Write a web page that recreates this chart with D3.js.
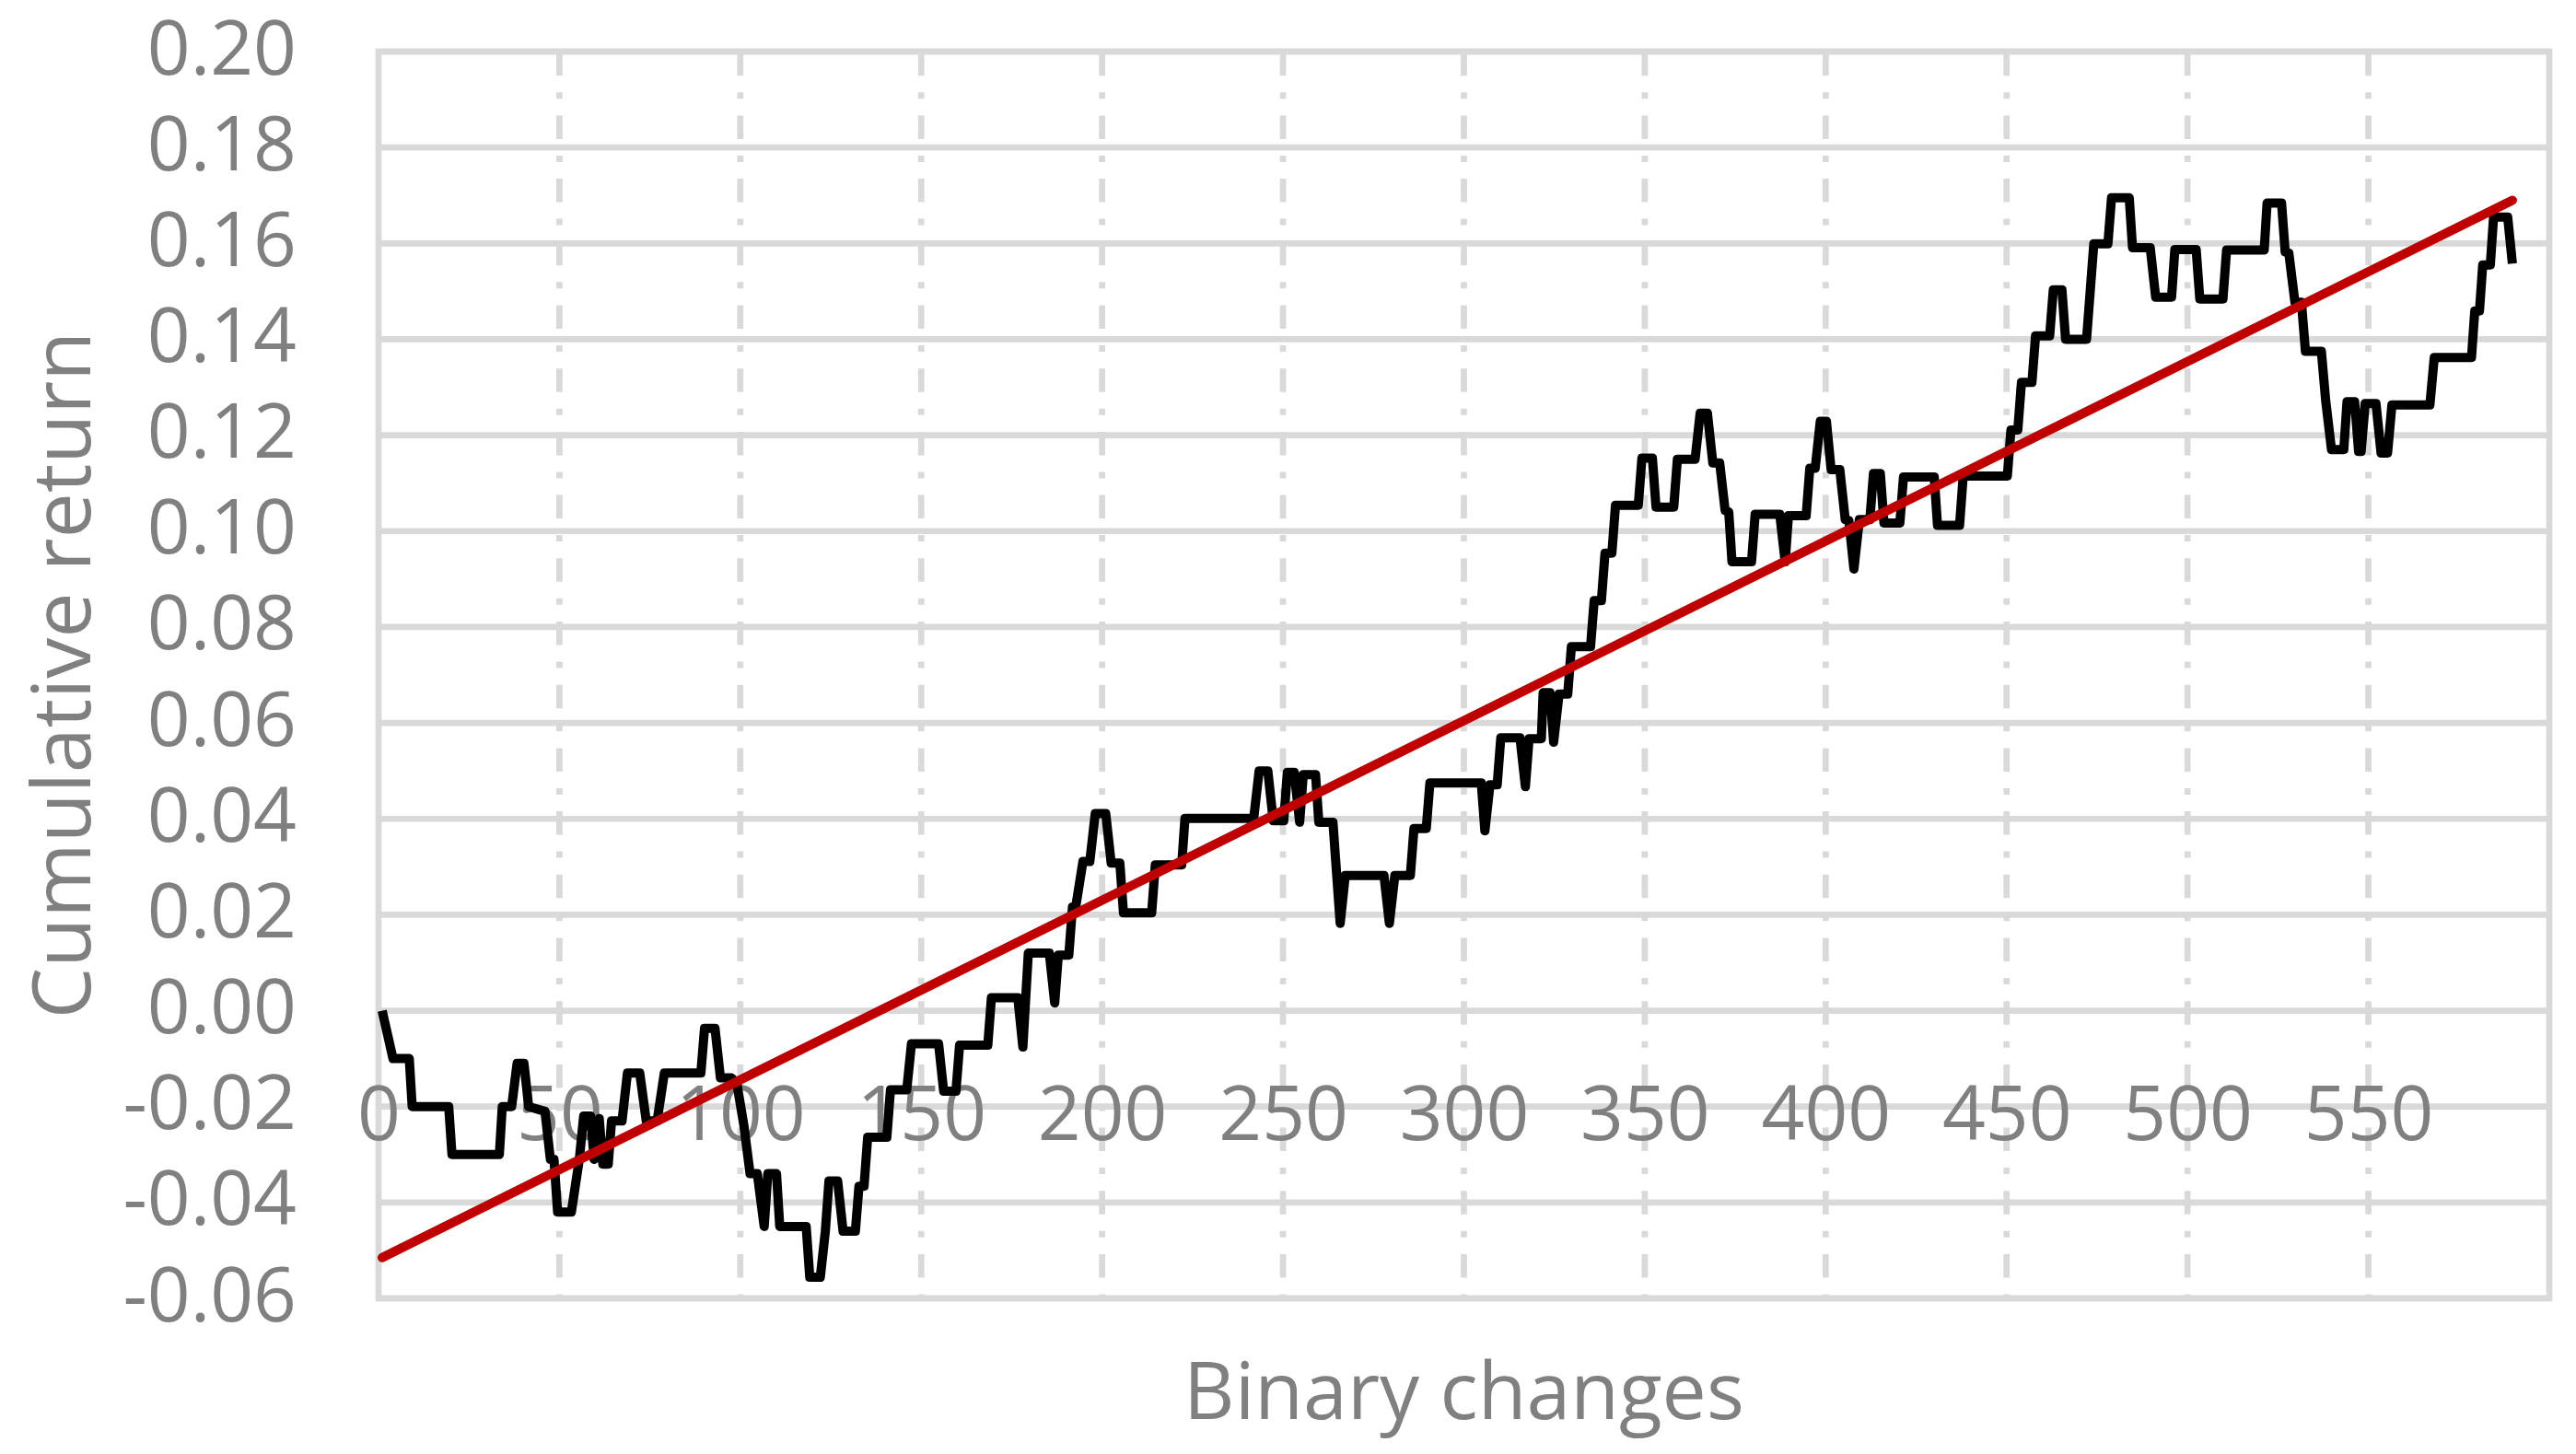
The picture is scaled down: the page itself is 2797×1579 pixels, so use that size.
<!DOCTYPE html>
<html lang="en">
<head>
<meta charset="UTF-8">
<title>Cumulative return vs binary changes</title>
<script src="https://d3js.org/d3.v7.min.js"></script>
<style>
    body { margin: 0; background: #fff; }
    svg { display: block; }
    .grid line { stroke: #d9d9d9; stroke-width: 6.7px; }
    .grid line.vert { stroke-dasharray: 25.5 18 7 18.2; }
    .tick-labels text, .title { fill: #808080; font-family: "Open Sans", sans-serif; }
</style>
</head>
<body>
<script>
    var width = 2797, height = 1579;

    // tick values
    var xTicks = [0, 50, 100, 150, 200, 250, 300, 350, 400, 450, 500, 550];
    var xGrid = [50, 100, 150, 200, 250, 300, 350, 400, 450, 500, 550];
    var yTicks = [-0.06, -0.04, -0.02, 0.00, 0.02, 0.04, 0.06, 0.08, 0.10,
                  0.12, 0.14, 0.16, 0.18, 0.20];

    // cumulative return at each corner of the line
    var cumulativeReturn = [
        [1, 0.000], [4, -0.010], [8.5, -0.010], [9.3, -0.020], [19.4, -0.020],
        [20.3, -0.030], [33.4, -0.030], [34.2, -0.020], [36.8, -0.020], [38.3, -0.011],
        [40.2, -0.011], [41.5, -0.020], [46, -0.021], [47.5, -0.031], [48.5, -0.031],
        [49.5, -0.042], [53.3, -0.042], [55.5, -0.031], [56.7, -0.022], [58.6, -0.022],
        [59.6, -0.031], [61, -0.0225], [62, -0.032], [63.5, -0.032], [64.4, -0.023],
        [67.3, -0.023], [68.8, -0.013], [72.2, -0.013], [74, -0.023], [77, -0.023],
        [79, -0.013], [89.1, -0.013], [90.1, -0.0037], [93, -0.0037], [94.5, -0.014],
        [97.5, -0.014], [99, -0.015], [101, -0.024], [102.7, -0.034], [104.7, -0.034],
        [106.6, -0.045], [107.6, -0.034], [110, -0.034], [110.9, -0.045], [118.2, -0.045],
        [119.2, -0.0556], [122.1, -0.0556], [123.5, -0.046], [124.5, -0.0355], [126.9, -0.0355],
        [128.4, -0.046], [131.8, -0.046], [132.8, -0.0366], [134.2, -0.0366], [135.2, -0.0264],
        [140.5, -0.0264], [141.5, -0.0165], [146, -0.0165], [147.3, -0.0069], [154.8, -0.0069],
        [156.2, -0.0168], [159.6, -0.0168], [160.6, -0.0072], [168.4, -0.0072], [169.4, 0.0027],
        [176.7, 0.0027], [178.1, -0.0076], [179.6, 0.012], [185.4, 0.012], [186.9, 0.0016],
        [187.9, 0.0116], [190.8, 0.0116], [191.8, 0.0216], [192.7, 0.0216], [194.7, 0.0311],
        [196.6, 0.0311], [198.1, 0.0411], [201, 0.0411], [202.5, 0.0308], [204.9, 0.0308],
        [205.9, 0.0204], [213.7, 0.0204], [214.7, 0.0304], [222, 0.0304], [222.9, 0.0401],
        [241.9, 0.0401], [243.4, 0.050], [245.8, 0.050], [247.3, 0.0396], [250.2, 0.0396],
        [251.2, 0.0497], [253.1, 0.0497], [254.6, 0.0393], [255.6, 0.0492], [259, 0.0492],
        [259.9, 0.0393], [263.8, 0.0393], [265.8, 0.0182], [267.2, 0.0282], [277.9, 0.0282],
        [279.4, 0.0182], [280.9, 0.0282], [285.2, 0.0282], [286.2, 0.0380], [289.6, 0.0380],
        [290.6, 0.0475], [304.8, 0.0475], [305.8, 0.0375], [307.2, 0.0471], [309.2, 0.0471],
        [310.2, 0.0569], [315.5, 0.0569], [317, 0.0467], [318, 0.0567], [321.4, 0.0567],
        [321.9, 0.0663], [323.8, 0.0663], [324.8, 0.056], [326.3, 0.066], [328.7, 0.066],
        [329.7, 0.0759], [335, 0.0759], [336, 0.0855], [338, 0.0855], [339, 0.0954],
        [340.9, 0.0954], [341.9, 0.1054], [348.2, 0.1054], [349.2, 0.1152], [352.1, 0.1152],
        [353.1, 0.105], [358, 0.105], [359, 0.115], [363.9, 0.115], [365.3, 0.1246],
        [367.3, 0.1246], [368.8, 0.1142], [370.7, 0.1142], [372.2, 0.1043], [373.2, 0.1040],
        [374.1, 0.0936], [379.5, 0.0936], [380.5, 0.1035], [387.3, 0.1035], [388.8, 0.0936],
        [389.7, 0.1032], [394.6, 0.1032], [395.6, 0.1131], [397.1, 0.1131], [398.5, 0.1229],
        [400.2, 0.1229], [401.5, 0.1128], [403.9, 0.1128], [405.4, 0.1024], [406.4, 0.1022],
        [407.8, 0.0921], [409.3, 0.1024], [412.2, 0.1024], [413.2, 0.112], [415.1, 0.112],
        [416.1, 0.1017], [420.5, 0.1017], [421.5, 0.1113], [430, 0.1113], [430.9, 0.1012],
        [437, 0.1012], [438, 0.1115], [450.2, 0.1115], [451.2, 0.1211], [453.1, 0.1211],
        [454.1, 0.131], [457, 0.131], [458, 0.1407], [461.9, 0.1407], [462.9, 0.1503],
        [465.3, 0.1503], [466.3, 0.140], [472.1, 0.140], [474.1, 0.1599], [478, 0.1599],
        [479, 0.1695], [483.9, 0.1695], [484.8, 0.1591], [489.7, 0.1591], [491.2, 0.1488],
        [495.6, 0.1488], [496.5, 0.1587], [502.4, 0.1587], [503.4, 0.1484], [509.8, 0.1484],
        [510.8, 0.1586], [521.2, 0.1586], [522, 0.1684], [526, 0.1684], [527, 0.1582],
        [528, 0.158], [529.7, 0.1477], [531.5, 0.1477], [532.6, 0.1375], [537, 0.1375],
        [538.2, 0.1272], [539.8, 0.117], [543.2, 0.117], [544.1, 0.127], [546.2, 0.127],
        [547.3, 0.1166], [548, 0.1166], [549.1, 0.1266], [552.1, 0.1266], [553.5, 0.1163],
        [555.3, 0.1163], [556.5, 0.1263], [567, 0.1263], [568.2, 0.1362], [578.5, 0.1362],
        [579.4, 0.1459], [580.7, 0.1459], [581.6, 0.1555], [583.7, 0.1555], [584.6, 0.1655],
        [588.5, 0.1655], [589.8, 0.1558]
    ];

    // linear trendline end points
    var trendLine = [[1, -0.0515], [589.8, 0.1690]];

    var plot = {left: 411, right: 2768, top: 56, bottom: 1410};

    var x = d3.scaleLinear().domain([0, 600]).range([plot.left, plot.right]);
    var y = d3.scaleLinear().domain([-0.06, 0.20]).range([plot.bottom, plot.top]);

    var svg = d3.select("body").append("svg")
        .attr("width", width)
        .attr("height", height);

    // gridlines
    var grid = svg.append("g").attr("class", "grid");

    grid.selectAll("line.horiz")
        .data(yTicks)
        .enter().append("line")
        .attr("class", "horiz")
        .attr("x1", plot.left).attr("x2", plot.right)
        .attr("y1", function(d) { return y(d); })
        .attr("y2", function(d) { return y(d); });

    grid.selectAll("line.vert")
        .data(xGrid)
        .enter().append("line")
        .attr("class", "vert")
        .attr("x1", function(d) { return x(d); })
        .attr("x2", function(d) { return x(d); })
        .attr("y1", plot.top + 0.7).attr("y2", plot.bottom);

    svg.append("rect")
        .attr("x", plot.left).attr("y", plot.top)
        .attr("width", plot.right - plot.left)
        .attr("height", plot.bottom - plot.top)
        .attr("fill", "none")
        .attr("stroke", "#d9d9d9")
        .attr("stroke-width", 6.7);

    // axes (labels only)
    var yAxis = svg.append("g")
        .attr("class", "tick-labels")
        .attr("transform", "translate(" + plot.left + ",0)")
        .call(d3.axisLeft(y).tickValues(yTicks).tickSize(0).tickPadding(89)
            .tickFormat(function(d) { return d.toFixed(2); }));
    yAxis.select(".domain").remove();
    yAxis.attr("font-family", null).attr("font-size", 82);
    yAxis.selectAll("text").attr("dy", 0).attr("y", 24);

    var xAxis = svg.append("g")
        .attr("class", "tick-labels")
        .attr("transform", "translate(0," + y(0) + ")")
        .call(d3.axisBottom(x).tickValues(xTicks).tickSize(0).tickPadding(0)
            .tickFormat(d3.format("d")));
    xAxis.select(".domain").remove();
    xAxis.attr("font-family", null).attr("font-size", 82);
    xAxis.selectAll("text").attr("dy", 0).attr("y", 140);

    // axis titles
    svg.append("text")
        .attr("class", "title")
        .attr("x", (plot.left + plot.right) / 2)
        .attr("y", 1541)
        .attr("text-anchor", "middle")
        .attr("font-size", 86)
        .text("Binary changes");

    svg.append("text")
        .attr("class", "title")
        .attr("transform", "translate(98," + ((plot.top + plot.bottom) / 2) + ") rotate(-90)")
        .attr("text-anchor", "middle")
        .attr("font-size", 88)
        .text("Cumulative return");

    // series
    var line = d3.line()
        .x(function(d) { return x(d[0]); })
        .y(function(d) { return y(d[1]); });

    svg.append("path")
        .datum(cumulativeReturn)
        .attr("d", line)
        .attr("fill", "none")
        .attr("stroke", "#000")
        .attr("stroke-width", 10)
        .attr("stroke-linejoin", "round");

    svg.append("path")
        .datum(trendLine)
        .attr("d", line)
        .attr("fill", "none")
        .attr("stroke", "#c00000")
        .attr("stroke-width", 10)
        .attr("stroke-linecap", "round");
</script>
</body>
</html>
